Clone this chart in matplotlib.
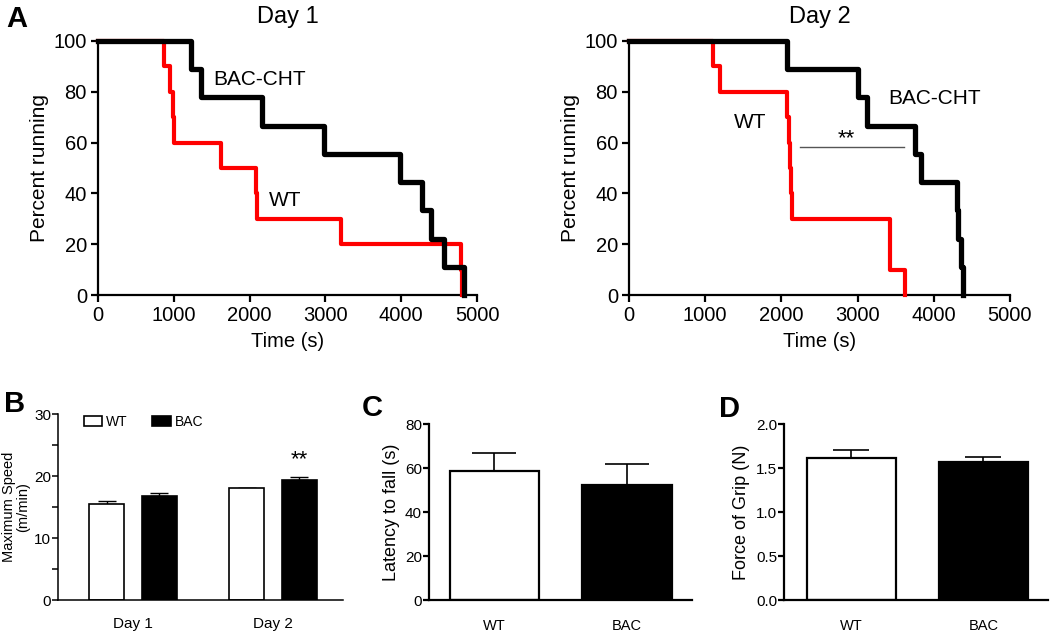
import numpy as np
import matplotlib
matplotlib.use('Agg')
import matplotlib.pyplot as plt
from matplotlib.patches import Patch

plt.rcParams['font.family'] = ['Liberation Sans', 'DejaVu Sans']

# ---- Panel A: percent of mice still running (Kaplan-Meier steps) ----
day1_bac_t = [0, 1227, 1360, 2169, 2982, 3982, 4276, 4396, 4560, 4827]
day1_bac_p = [100, 88.9, 77.8, 66.7, 55.6, 44.4, 33.3, 22.2, 11.1, 0]
day1_wt_t = [0, 867, 951, 987, 1009, 1618, 2080, 2100, 3209, 4790, 4805]
day1_wt_p = [100, 90, 80, 70, 60, 50, 40, 30, 20, 10, 0]

day2_bac_t = [0, 2067, 2999, 3117, 3752, 3831, 4300, 4322, 4352, 4378]
day2_bac_p = [100, 88.9, 77.8, 66.7, 55.6, 44.4, 33.3, 22.2, 11.1, 0]
day2_wt_t = [0, 1103, 1191, 2080, 2100, 2115, 2130, 2140, 3424, 3621]
day2_wt_p = [100, 90, 80, 70, 60, 50, 40, 30, 10, 0]

# ---- Panel B: maximum speed ----
days = ['Day 1', 'Day 2']
speed_wt = [15.5, 18.0]
speed_wt_err = [0.4, 0.0]
speed_bac = [16.7, 19.4]
speed_bac_err = [0.5, 0.4]

# ---- Panel C / D ----
groups = ['WT', 'BAC']
latency = [58.6, 52.3]
latency_err = [8.2, 9.7]
grip = [1.614, 1.568]
grip_err = [0.086, 0.052]

RED = '#ff0000'

fig = plt.figure(figsize=(10.5, 6.35), dpi=100)


def km_axes(rect, wt_t, wt_p, bac_t, bac_p, title):
    ax = fig.add_axes(rect)
    ax.step(wt_t, wt_p, where='post', color=RED, lw=3.0, clip_on=False, zorder=3)
    ax.step(bac_t, bac_p, where='post', color='black', lw=3.8, clip_on=False, zorder=4)
    ax.set_xlim(0, 5000)
    ax.set_ylim(0, 100)
    ax.set_xticks([0, 1000, 2000, 3000, 4000, 5000])
    ax.set_yticks([0, 20, 40, 60, 80, 100])
    for s in ['top', 'right']:
        ax.spines[s].set_visible(False)
    for s in ['left', 'bottom']:
        ax.spines[s].set_linewidth(1.6)
    ax.tick_params(width=1.6, length=5, labelsize=14.5, pad=3)
    ax.set_xlabel('Time (s)', fontsize=14.5, labelpad=5)
    ax.set_ylabel('Percent running', fontsize=15, labelpad=3)
    ax.set_title(title, fontsize=17, pad=13)
    return ax


ax1 = km_axes([98 / 1050, 1 - 295 / 635, 379 / 1050, 254 / 635],
              day1_wt_t, day1_wt_p, day1_bac_t, day1_bac_p, 'Day 1')
ax1.text(2137, 85, 'BAC-CHT', fontsize=15, ha='center', va='center')
ax1.text(2467, 37.4, 'WT', fontsize=15, ha='center', va='center')

ax2 = km_axes([629 / 1050, 1 - 295 / 635, 381 / 1050, 254 / 635],
              day2_wt_t, day2_wt_p, day2_bac_t, day2_bac_p, 'Day 2')
ax2.text(4016, 77.2, 'BAC-CHT', fontsize=15, ha='center', va='center')
ax2.text(1588, 67.8, 'WT', fontsize=15, ha='center', va='center')
ax2.plot([2242, 3608], [58.1, 58.1], color='#555555', lw=1.0, zorder=2)
ax2.text(2848, 61.5, '**', fontsize=16, ha='center', va='center')

# ---- Panel B ----
axb = fig.add_axes([58 / 1050, 35 / 635, 285 / 1050, 186 / 635])
x = np.arange(len(days))
bw = 0.25
off = 0.1875
axb.bar(x - off, speed_wt, bw, color='white', edgecolor='black', lw=1.2, zorder=2)
axb.bar(x + off, speed_bac, bw, color='black', edgecolor='black', lw=1.2, zorder=2)
axb.errorbar(x - off, speed_wt, yerr=[np.zeros(2), speed_wt_err], fmt='none',
             ecolor='black', elinewidth=1.0, capsize=6.5, capthick=1.0, zorder=1)
axb.errorbar(x + off, speed_bac, yerr=[np.zeros(2), speed_bac_err], fmt='none',
             ecolor='black', elinewidth=1.0, capsize=6.5, capthick=1.0, zorder=1)
axb.text(1 + off, 22.6, '**', fontsize=16, ha='center', va='center')
axb.set_xlim(-0.536, 1.5)
axb.set_ylim(0, 30)
axb.set_yticks([0, 10, 20, 30])
axb.set_yticks([5, 15, 25], minor=True)
axb.set_xticks(x)
axb.set_xticklabels(days)
for s in ['top', 'right']:
    axb.spines[s].set_visible(False)
for s in ['left', 'bottom']:
    axb.spines[s].set_linewidth(1.1)
axb.tick_params(axis='y', which='both', width=1.1, length=4, labelsize=11, pad=1)
axb.tick_params(axis='x', length=0, labelsize=11, pad=12)
axb.set_ylabel('Maximum Speed\n(m/min)', fontsize=10.5, labelpad=3, linespacing=1.0)
handles = [Patch(facecolor='white', edgecolor='black', lw=1.2, label='WT'),
           Patch(facecolor='black', edgecolor='black', lw=1.2, label='BAC')]
axb.legend(handles=handles, loc='center left', bbox_to_anchor=(0.09, 0.957), ncol=2,
           frameon=False, fontsize=10, handlelength=1.3, handleheight=0.8,
           handletextpad=0.3, columnspacing=1.8, borderaxespad=0, borderpad=0)


def bar_panel(rect, vals, errs, xlim, ylim, yticks, ylabel, cap, fmt=None):
    ax = fig.add_axes(rect)
    xx = np.arange(len(groups))
    ax.bar(xx, vals, 0.675, color=['white', 'black'], edgecolor='black', lw=1.6, zorder=2)
    ax.errorbar(xx, vals, yerr=[np.zeros(len(vals)), errs], fmt='none', ecolor='black',
                elinewidth=1.2, capsize=cap, capthick=1.2, zorder=1)
    ax.set_xlim(*xlim)
    ax.set_ylim(*ylim)
    ax.set_yticks(yticks)
    if fmt:
        ax.set_yticklabels([fmt.format(v) for v in yticks])
    ax.set_xticks(xx)
    ax.set_xticklabels(groups)
    for s in ['top', 'right']:
        ax.spines[s].set_visible(False)
    for s in ['left', 'bottom']:
        ax.spines[s].set_linewidth(1.6)
    ax.tick_params(axis='y', width=1.6, length=4, labelsize=11, pad=1)
    ax.tick_params(axis='x', length=0, labelsize=10.5, pad=14)
    ax.set_ylabel(ylabel, fontsize=13, labelpad=4)
    return ax


axc = bar_panel([429 / 1050, 35 / 635, 263 / 1050, 176 / 635], latency, latency_err,
                (-0.494, 1.49), (0, 80), [0, 20, 40, 60, 80], 'Latency to fall (s)', 16)
axd = bar_panel([784 / 1050, 35 / 635, 264 / 1050, 176 / 635], grip, grip_err,
                (-0.508, 1.49), (0, 2.0), [0.0, 0.5, 1.0, 1.5, 2.0], 'Force of Grip (N)', 13,
                fmt='{:.1f}')

# panel letters
for lab, px, py in [('A', 6, 5), ('B', 4, 390), ('C', 362, 394), ('D', 719, 395)]:
    fig.text(px / 1050, 1 - py / 635, lab, fontsize=21, fontweight='bold',
             ha='left', va='top')

fig.savefig('out.png', dpi=100, facecolor='white')
